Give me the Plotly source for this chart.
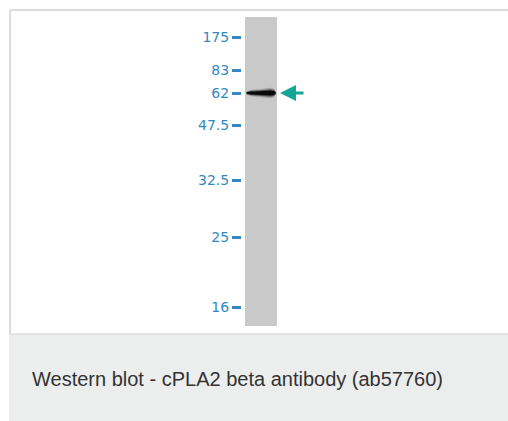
import plotly.graph_objects as go

# Marker ladder (kDa) and migration distance from top of lane (arbitrary units)
marker_labels = ["175", "83", "62", "47.5", "32.5", "25", "16"]
marker_migration = [20, 53, 76, 108, 163, 220, 290]
lane_length = 309
band_migration = 76
# band profile across the lane (fraction of lane width, half thickness in migration units)
band_x = [0.05, 0.2, 0.45, 0.65, 0.8, 0.9, 0.96]
band_halfwidth = [0.9, 1.7, 2.0, 2.6, 2.8, 2.3, 0.9]
caption = "Western blot - cPLA2 beta antibody (ab57760)"

W, H = 508, 421
blue = "#3388c2"
teal = "#16a596"

fig = go.Figure()

# band: layered tapered shapes for a soft, blurred look
for scale, col in [(1.9, "rgba(70,70,70,0.30)"), (1.35, "rgba(30,30,30,0.55)"), (0.85, "rgba(5,5,5,0.95)")]:
    xs = band_x + band_x[::-1]
    ys = [band_migration - h * scale for h in band_halfwidth] + \
         [band_migration + h * scale for h in band_halfwidth[::-1]]
    fig.add_trace(go.Scatter(x=xs, y=ys, mode="lines", fill="toself", fillcolor=col,
                             line=dict(width=0, color=col), hoverinfo="skip"))

fig.update_layout(
    width=W, height=H,
    margin=dict(l=0, r=0, t=0, b=0),
    paper_bgcolor="white",
    plot_bgcolor="#c9c9c9",
    showlegend=False,
    xaxis=dict(domain=[245 / W, 277 / W], range=[0, 1], visible=False, fixedrange=True),
    yaxis=dict(domain=[(H - 326) / H, (H - 17) / H], range=[lane_length, 0],
               anchor="free", position=241 / W, side="left",
               tickvals=marker_migration, ticktext=marker_labels,
               ticks="outside", ticklen=9, tickwidth=3, tickcolor=blue,
               tickfont=dict(family="DejaVu Sans, sans-serif", size=14, color=blue),
               showgrid=False, zeroline=False, showline=False, fixedrange=True),
)

# frame lines (top and left) of the image panel
fig.add_shape(type="line", xref="paper", yref="paper", x0=10 / W, x1=1, y0=1 - 10 / H, y1=1 - 10 / H,
              line=dict(color="#dcdcdc", width=2))
fig.add_shape(type="line", xref="paper", yref="paper", x0=10 / W, x1=10 / W, y0=1 - 10 / H, y1=1 - 334 / H,
              line=dict(color="#dcdcdc", width=2))
# caption box
fig.add_shape(type="rect", xref="paper", yref="paper", x0=9 / W, x1=1, y0=0, y1=1 - 334 / H,
              fillcolor="#eceded", line=dict(width=0), layer="below")
fig.add_shape(type="line", xref="paper", yref="paper", x0=9 / W, x1=1, y0=1 - 334 / H, y1=1 - 334 / H,
              line=dict(color="#dedede", width=1.5))

# arrow pointing to band
fig.add_annotation(x=280 / W, y=band_migration, xref="paper", yref="y", text="", showarrow=True,
                   ax=25, ay=0, arrowhead=2, arrowsize=1.0, arrowwidth=3.2, arrowcolor=teal)

# caption
fig.add_annotation(x=30 / W, y=1 - 379 / H, xref="paper", yref="paper", xanchor="left", yanchor="middle",
                   text=caption, showarrow=False,
                   font=dict(family="Liberation Sans, Arial, sans-serif", size=20, color="#333333"))

fig.write_html("out.html", config={"displayModeBar": False},
               post_script="document.body.style.margin='0';document.body.style.overflow='hidden';")
